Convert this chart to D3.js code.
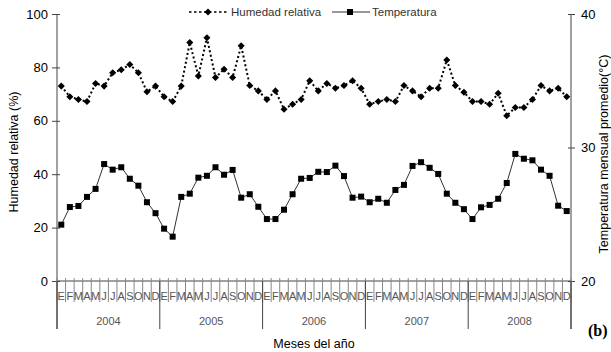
<!DOCTYPE html>
<html>
<head>
<meta charset="utf-8">
<script src="https://cdn.jsdelivr.net/npm/d3@7"></script>
<style>
  html, body { margin: 0; padding: 0; background: #fff; }
  svg { display: block; font-family: "Liberation Sans", Arial, sans-serif; }
</style>
</head>
<body>
<svg id="chart" width="611" height="352"></svg>
<script>
// Monthly series 2004-2008
const years = ["2004", "2005", "2006", "2007", "2008"];
const monthLetters = ["E", "F", "M", "A", "M", "J", "J", "A", "S", "O", "N", "D"];

// Relative humidity (%)
const humedad = [
  73, 69, 68, 67.2, 74, 73, 78, 79.1, 81.1, 78, 70.9, 73,
  69, 67.2, 73, 89.3, 76.8, 91.1, 76.2, 79.3, 76.2, 88.1, 73.2, 71.2,
  68, 71.2, 64.3, 66.2, 68, 75, 71.2, 74, 72.2, 73.2, 75, 72.2,
  66.2, 67.2, 68, 67.2, 73.2, 71.2, 69, 72.2, 72.2, 82.8, 73.2, 70.7,
  67.2, 67.2, 66.2, 70.3, 61.9, 65, 65, 68, 73.2, 71.2, 72.2, 69
];

// Mean monthly temperature (°C)
const temperatura = [
  24.22, 25.54, 25.62, 26.30, 26.90, 28.76, 28.34, 28.52, 27.66, 27.14, 25.90, 25.08,
  23.92, 23.32, 26.30, 26.54, 27.74, 27.88, 28.52, 27.96, 28.32, 26.24, 26.50, 25.56,
  24.64, 24.64, 25.34, 26.50, 27.66, 27.72, 28.18, 28.16, 28.64, 27.86, 26.24, 26.32,
  25.90, 26.16, 25.86, 26.82, 27.20, 28.62, 28.90, 28.48, 28.02, 26.54, 25.86, 25.38,
  24.64, 25.52, 25.70, 26.16, 27.34, 29.52, 29.16, 29.04, 28.34, 27.88, 25.64, 25.24
];

const leftTicks = [0, 20, 40, 60, 80, 100];
const rightTicks = [20, 30, 40];

const svg = d3.select("#chart");
const plotLeft = 57, plotRight = 571, plotTop = 14, base = 281;
const monthTickBottom = 302, yearLineBottom = 329;

const idx = d3.range(humedad.length);
const x = d3.scaleBand().domain(idx).range([plotLeft, plotRight]).paddingInner(0).paddingOuter(0);
const yL = d3.scaleLinear().domain([0, 100]).range([base, plotTop]);
const yR = d3.scaleLinear().domain([20, 40]).range([base, plotTop]);
const cx = i => x(i) + x.bandwidth() / 2;

const axisColor = "#444";

// Left axis
const gL = svg.append("g").attr("transform", `translate(${plotLeft},0)`)
  .call(d3.axisLeft(yL).tickValues(leftTicks).tickSize(5).tickPadding(4));
gL.select(".domain").remove();
gL.selectAll(".tick line").attr("x1", -5).attr("x2", 3).attr("stroke", axisColor);
gL.selectAll(".tick text").attr("font-size", 13).attr("fill", "#000")
  .attr("font-family", "'Liberation Sans', Arial, sans-serif");
svg.append("line").attr("x1", plotLeft).attr("x2", plotLeft).attr("y1", plotTop).attr("y2", yearLineBottom)
  .attr("stroke", axisColor);

// Right axis
const gR = svg.append("g").attr("transform", `translate(${plotRight},0)`)
  .call(d3.axisRight(yR).tickValues(rightTicks).tickSize(4).tickPadding(6));
gR.select(".domain").remove();
gR.selectAll(".tick line").attr("x1", -3).attr("x2", 4).attr("stroke", axisColor);
gR.selectAll(".tick text").attr("font-size", 13).attr("fill", "#000")
  .attr("font-family", "'Liberation Sans', Arial, sans-serif");
svg.append("line").attr("x1", plotRight).attr("x2", plotRight).attr("y1", plotTop).attr("y2", yearLineBottom)
  .attr("stroke", axisColor);

// Baseline
svg.append("line").attr("x1", plotLeft).attr("x2", plotRight).attr("y1", base).attr("y2", base)
  .attr("stroke", axisColor);

// Month boundary ticks and letters
const monthG = svg.append("g");
monthG.selectAll("line").data(d3.range(humedad.length + 1)).join("line")
  .attr("x1", i => plotLeft + i * x.bandwidth()).attr("x2", i => plotLeft + i * x.bandwidth())
  .attr("y1", base - 3).attr("y2", monthTickBottom)
  .attr("stroke", "#888");
monthG.selectAll("text").data(idx).join("text")
  .attr("x", cx).attr("y", 300)
  .attr("text-anchor", "middle").attr("font-size", 11).attr("fill", "#555")
  .text(i => monthLetters[i % 12]);

// Year separators and labels
const yearG = svg.append("g");
yearG.selectAll("line").data(d3.range(years.length + 1)).join("line")
  .attr("x1", k => plotLeft + k * 12 * x.bandwidth())
  .attr("x2", k => plotLeft + k * 12 * x.bandwidth())
  .attr("y1", base).attr("y2", yearLineBottom)
  .attr("stroke", axisColor);
yearG.selectAll("text").data(years).join("text")
  .attr("x", (d, k) => x(k * 12) + 6 * x.bandwidth()).attr("y", 325)
  .attr("text-anchor", "middle").attr("font-size", 11).attr("fill", "#555")
  .text(d => d);

// Temperature line with square markers
svg.append("path").datum(temperatura)
  .attr("fill", "none").attr("stroke", "#333").attr("stroke-width", 1)
  .attr("d", d3.line().x((d, i) => cx(i)).y(d => yR(d)));
svg.append("g").selectAll("rect").data(temperatura).join("rect")
  .attr("x", (d, i) => cx(i) - 3).attr("y", d => yR(d) - 3)
  .attr("width", 6).attr("height", 6).attr("fill", "#000");

// Humidity dotted line with diamond markers
svg.append("path").datum(humedad)
  .attr("fill", "none").attr("stroke", "#000").attr("stroke-width", 2)
  .attr("stroke-dasharray", "2,2.5")
  .attr("d", d3.line().x((d, i) => cx(i)).y(d => yL(d)));
const diamond = d3.symbol().type(d3.symbolDiamond2).size(32);
svg.append("g").selectAll("path").data(humedad).join("path")
  .attr("transform", (d, i) => `translate(${cx(i)},${yL(d)})`)
  .attr("d", diamond).attr("fill", "#000");

// Legend
const leg = svg.append("g");
leg.append("line").attr("x1", 189).attr("x2", 228).attr("y1", 12).attr("y2", 12)
  .attr("stroke", "#000").attr("stroke-width", 1.5).attr("stroke-dasharray", "2.5,2.5");
leg.append("path").attr("transform", "translate(208,12)").attr("d", diamond).attr("fill", "#000");
leg.append("text").attr("x", 231).attr("y", 16).attr("font-size", 11.5).attr("fill", "#333")
  .text("Humedad relativa");
leg.append("line").attr("x1", 332).attr("x2", 370).attr("y1", 12).attr("y2", 12)
  .attr("stroke", "#333").attr("stroke-width", 1);
leg.append("rect").attr("x", 347).attr("y", 9).attr("width", 6).attr("height", 6).attr("fill", "#000");
leg.append("text").attr("x", 372).attr("y", 16).attr("font-size", 11.5).attr("fill", "#333")
  .text("Temperatura");

// Axis titles
svg.append("text").attr("transform", "translate(18,152) rotate(-90)")
  .attr("text-anchor", "middle").attr("font-size", 12.5).attr("fill", "#000")
  .text("Humedad relativa (%)");
svg.append("text").attr("transform", "translate(608,154) rotate(-90)")
  .attr("text-anchor", "middle").attr("font-size", 12.5).attr("fill", "#000")
  .text("Temperatura mensual promedio(°C)");
svg.append("text").attr("x", 314).attr("y", 348)
  .attr("text-anchor", "middle").attr("font-size", 12.5).attr("fill", "#000")
  .text("Meses del año");

// Panel tag
svg.append("text").attr("x", 588).attr("y", 336)
  .attr("font-family", "'Liberation Serif', 'Times New Roman', serif")
  .attr("font-weight", "bold").attr("font-size", 16).attr("fill", "#000")
  .text("(b)");
</script>
</body>
</html>
